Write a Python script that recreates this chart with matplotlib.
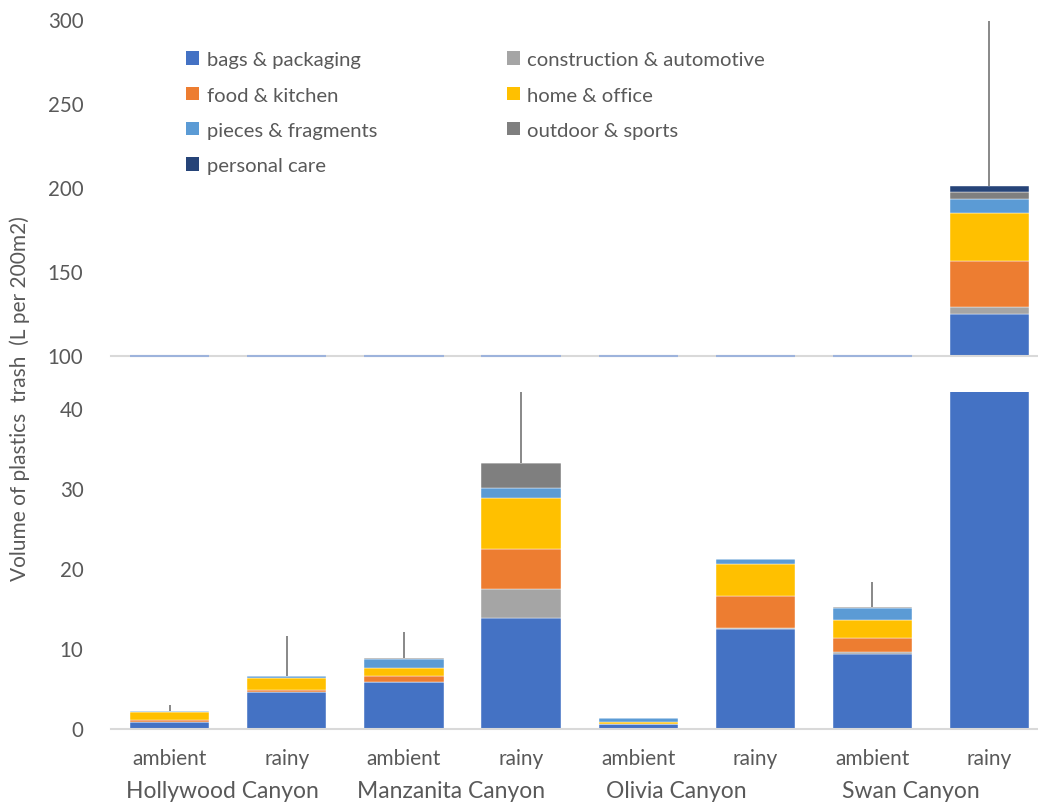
import matplotlib.pyplot as plt
from matplotlib.patches import Patch
import numpy as np

plt.rcParams['font.family'] = ['Lato', 'DejaVu Sans']

conditions = ['ambient', 'rainy', 'ambient', 'rainy', 'ambient', 'rainy', 'ambient', 'rainy']
canyons = ['Hollywood Canyon', 'Manzanita Canyon', 'Olivia Canyon', 'Swan Canyon']

series_names = ['bags & packaging', 'construction & automotive', 'food & kitchen',
                'home & office', 'pieces & fragments', 'outdoor & sports', 'personal care']
bags = [0.85, 4.5, 5.8, 13.8, 0.55, 12.4, 9.25, 124.4]
construction = [0.0, 0.05, 0.05, 3.6, 0.0, 0.1, 0.35, 4.2]
food = [0.25, 0.2, 0.7, 5.0, 0.05, 4.0, 1.65, 27.4]
home = [0.95, 1.6, 0.95, 6.4, 0.15, 4.0, 2.35, 28.5]
pieces = [0.12, 0.2, 1.15, 1.2, 0.5, 0.6, 1.4, 8.4]
outdoor = [0.0, 0.0, 0.2, 3.1, 0.0, 0.0, 0.2, 4.3]
personal = [0.0, 0.0, 0.0, 0.0, 0.0, 0.0, 0.0, 3.6]
errors = [0.8, 5.05, 3.25, 9.5, 0.0, 0.0, 3.1, 98.0]

colors = ['#4472C4', '#A5A5A5', '#ED7D31', '#FFC000', '#5B9BD5', '#7F7F7F', '#264478']
series = [bags, construction, food, home, pieces, outdoor, personal]

text_color = '#595959'
x = np.arange(len(conditions))
width = 0.677

fig = plt.figure(figsize=(10.38, 8.03), dpi=100)
ax_top = fig.add_axes([111.2 / 1038, 1 - 356.5 / 803, 936.8 / 1038, 336.5 / 803])
ax_bot = fig.add_axes([111.2 / 1038, 1 - 729.5 / 803, 936.8 / 1038, 336.5 / 803])

totals = np.sum(np.array(series), axis=0)
err = np.array(errors)
has_err = err > 0

for ax in (ax_top, ax_bot):
    bottom = np.zeros(len(x))
    for vals, c in zip(series, colors):
        ax.bar(x, vals, width, bottom=bottom, color=c, edgecolor='white', linewidth=0.3, zorder=2)
        bottom = bottom + np.array(vals)
    ax.vlines(x[has_err], totals[has_err], (totals + err)[has_err],
              color='#7F7F7F', linewidth=1.3, zorder=3)
    ax.set_xlim(-0.5, 7.5)
    for s in ['top', 'right', 'left']:
        ax.spines[s].set_visible(False)
    ax.spines['bottom'].set_color('#D9D9D9')
    ax.spines['bottom'].set_linewidth(1.5)
    ax.tick_params(axis='y', length=0, pad=20, labelsize=14.8, labelcolor=text_color)
    ax.tick_params(axis='x', length=0)

ax_top.set_ylim(100, 300)
ax_top.set_yticks([100, 150, 200, 250, 300])
ax_top.set_xticks([])
# clipped bars show as a thin line at the axis bottom
low = totals < 100
ax_top.hlines(np.full(low.sum(), 100), x[low] - width / 2, x[low] + width / 2,
              color='#9DB3DC', linewidth=1.5, zorder=4, clip_on=False)

ax_bot.set_ylim(0, 42)
ax_bot.set_yticks([0, 10, 20, 30, 40])
ax_bot.set_xticks(x)
ax_bot.set_xticklabels(conditions, fontsize=15, color=text_color)
ax_bot.tick_params(axis='x', pad=14)

canyon_pos = [0.447, 2.40, 4.33, 6.33]
for pos, name in zip(canyon_pos, canyons):
    ax_bot.text(pos, -0.184, name, transform=ax_bot.get_xaxis_transform(),
                ha='center', va='center', fontsize=16.5, color=text_color)

fig.text(20 / 1038, 1 - 399 / 803, 'Volume of plastics  trash  (L per 200m2)',
         rotation=90, ha='center', va='center', fontsize=15, color=text_color)

handles = [Patch(facecolor=c, label=n) for c, n in zip(colors, series_names)]
order = [0, 2, 4, 6, 1, 3, 5]
leg = fig.legend([handles[i] for i in order], [series_names[i] for i in order],
                 loc='upper left', bbox_to_anchor=(168 / 1038, 1 - 34 / 803), ncol=2,
                 frameon=False, fontsize=14.6, handlelength=0.65, handleheight=0.65,
                 handletextpad=0.35, labelspacing=0.9, columnspacing=6.4)
for t in leg.get_texts():
    t.set_color(text_color)

fig.savefig('out.png', dpi=100)
